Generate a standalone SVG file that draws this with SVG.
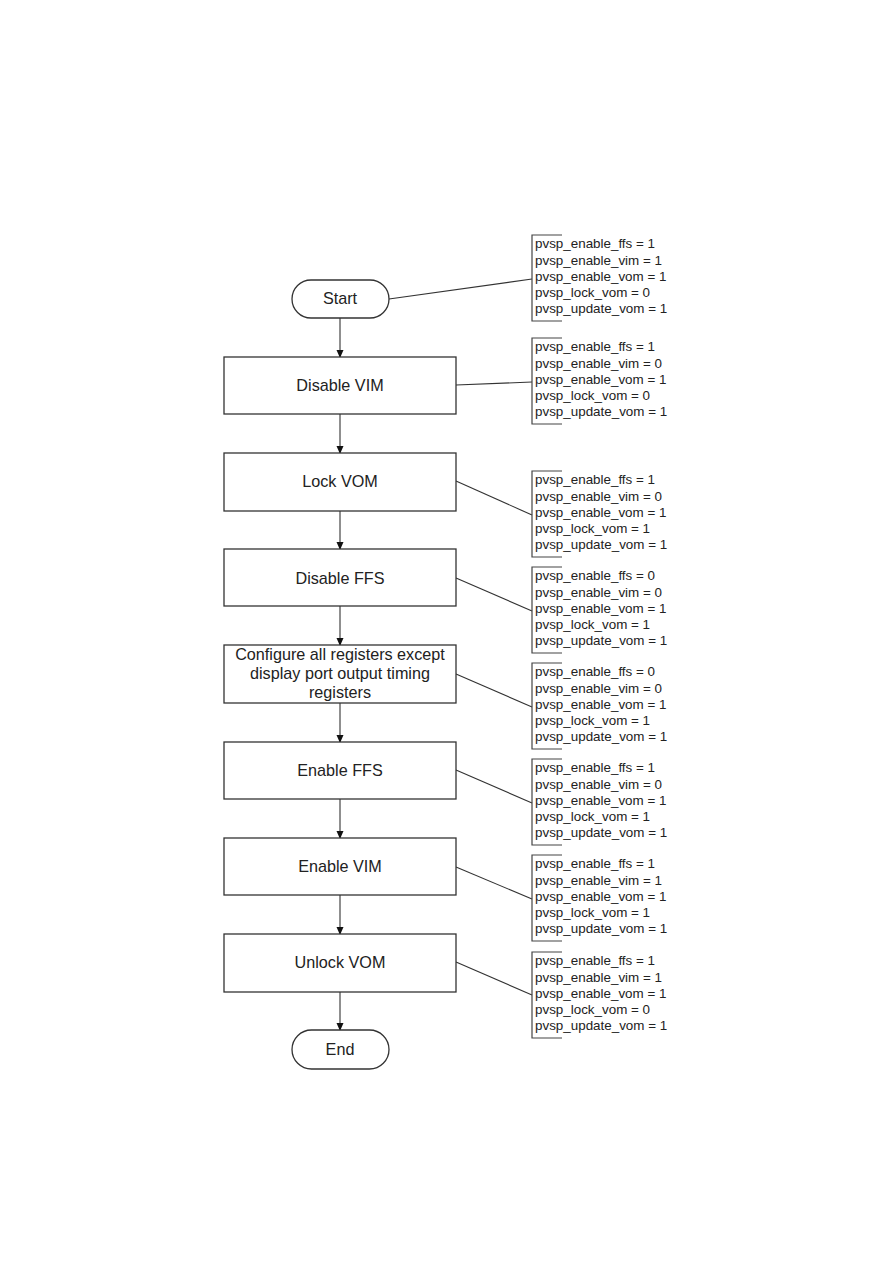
<svg xmlns="http://www.w3.org/2000/svg" width="893" height="1263" viewBox="0 0 893 1263">
<defs>
<style>
.box{fill:#fff;stroke:#333;stroke-width:1.3}
.t{font-family:"Liberation Sans",Arial,sans-serif;font-size:16.2px;fill:#222;text-anchor:middle}
.a{font-family:"Liberation Sans",Arial,sans-serif;font-size:13.4px;fill:#222}
.br{fill:none;stroke:#444;stroke-width:1.2}
.c{fill:none;stroke:#333;stroke-width:1.1}
</style>
<marker id="ah" markerWidth="8" markerHeight="9" refX="7" refY="4.5" orient="auto" markerUnits="userSpaceOnUse">
<path d="M0,1 L8,4.5 L0,8 Z" fill="#111"/>
</marker>
</defs>
<rect width="893" height="1263" fill="#fff"/>

<g id="connectors">
<line class="c" x1="340" y1="318" x2="340" y2="357" marker-end="url(#ah)"/>
<line class="c" x1="340" y1="414" x2="340" y2="453" marker-end="url(#ah)"/>
<line class="c" x1="340" y1="511" x2="340" y2="549" marker-end="url(#ah)"/>
<line class="c" x1="340" y1="606" x2="340" y2="645" marker-end="url(#ah)"/>
<line class="c" x1="340" y1="703" x2="340" y2="742" marker-end="url(#ah)"/>
<line class="c" x1="340" y1="799" x2="340" y2="838" marker-end="url(#ah)"/>
<line class="c" x1="340" y1="895" x2="340" y2="934" marker-end="url(#ah)"/>
<line class="c" x1="340" y1="992" x2="340" y2="1030" marker-end="url(#ah)"/>
<line class="c" x1="389" y1="299" x2="532" y2="279"/>
<line class="c" x1="456" y1="385" x2="532" y2="382"/>
<line class="c" x1="456" y1="481" x2="532" y2="515"/>
<line class="c" x1="456" y1="578" x2="532" y2="611"/>
<line class="c" x1="456" y1="674" x2="532" y2="707"/>
<line class="c" x1="456" y1="770" x2="532" y2="803"/>
<line class="c" x1="456" y1="867" x2="532" y2="899"/>
<line class="c" x1="456" y1="962" x2="532" y2="995"/>
</g>

<g id="start"><rect class="box" x="292" y="280" width="97" height="38" rx="19"/><text class="t" x="340" y="304">Start</text></g>
<g id="disable-vim"><rect class="box" x="224" y="357" width="232" height="57"/><text class="t" x="340" y="391">Disable VIM</text></g>
<g id="lock-vom"><rect class="box" x="224" y="453" width="232" height="58"/><text class="t" x="340" y="487">Lock VOM</text></g>
<g id="disable-ffs"><rect class="box" x="224" y="549" width="232" height="57"/><text class="t" x="340" y="584">Disable FFS</text></g>
<g id="configure"><rect class="box" x="224" y="645" width="232" height="58"/><text class="t" x="340" y="660">Configure all registers except</text><text class="t" x="340" y="679">display port output timing</text><text class="t" x="340" y="698">registers</text></g>
<g id="enable-ffs"><rect class="box" x="224" y="742" width="232" height="57"/><text class="t" x="340" y="776">Enable FFS</text></g>
<g id="enable-vim"><rect class="box" x="224" y="838" width="232" height="57"/><text class="t" x="340" y="872">Enable VIM</text></g>
<g id="unlock-vom"><rect class="box" x="224" y="934" width="232" height="58"/><text class="t" x="340" y="968">Unlock VOM</text></g>
<g id="end"><rect class="box" x="292" y="1030" width="97" height="39" rx="19.5"/><text class="t" x="340" y="1055">End</text></g>

<g id="note1"><path class="br" d="M562,235 H532 V321 H562"/>
<text class="a" x="535" y="248.3">pvsp_enable_ffs = 1</text><text class="a" x="535" y="264.5">pvsp_enable_vim = 1</text><text class="a" x="535" y="280.6">pvsp_enable_vom = 1</text><text class="a" x="535" y="296.7">pvsp_lock_vom = 0</text><text class="a" x="535" y="312.8">pvsp_update_vom = 1</text></g>
<g id="note2"><path class="br" d="M562,338 H532 V424 H562"/>
<text class="a" x="535" y="351.3">pvsp_enable_ffs = 1</text><text class="a" x="535" y="367.5">pvsp_enable_vim = 0</text><text class="a" x="535" y="383.6">pvsp_enable_vom = 1</text><text class="a" x="535" y="399.7">pvsp_lock_vom = 0</text><text class="a" x="535" y="415.8">pvsp_update_vom = 1</text></g>
<g id="note3"><path class="br" d="M562,471 H532 V557 H562"/>
<text class="a" x="535" y="484.3">pvsp_enable_ffs = 1</text><text class="a" x="535" y="500.5">pvsp_enable_vim = 0</text><text class="a" x="535" y="516.6">pvsp_enable_vom = 1</text><text class="a" x="535" y="532.7">pvsp_lock_vom = 1</text><text class="a" x="535" y="548.8">pvsp_update_vom = 1</text></g>
<g id="note4"><path class="br" d="M562,567 H532 V653 H562"/>
<text class="a" x="535" y="580.3">pvsp_enable_ffs = 0</text><text class="a" x="535" y="596.5">pvsp_enable_vim = 0</text><text class="a" x="535" y="612.6">pvsp_enable_vom = 1</text><text class="a" x="535" y="628.7">pvsp_lock_vom = 1</text><text class="a" x="535" y="644.8">pvsp_update_vom = 1</text></g>
<g id="note5"><path class="br" d="M562,663 H532 V749 H562"/>
<text class="a" x="535" y="676.3">pvsp_enable_ffs = 0</text><text class="a" x="535" y="692.5">pvsp_enable_vim = 0</text><text class="a" x="535" y="708.6">pvsp_enable_vom = 1</text><text class="a" x="535" y="724.7">pvsp_lock_vom = 1</text><text class="a" x="535" y="740.8">pvsp_update_vom = 1</text></g>
<g id="note6"><path class="br" d="M562,759 H532 V845 H562"/>
<text class="a" x="535" y="772.3">pvsp_enable_ffs = 1</text><text class="a" x="535" y="788.5">pvsp_enable_vim = 0</text><text class="a" x="535" y="804.6">pvsp_enable_vom = 1</text><text class="a" x="535" y="820.7">pvsp_lock_vom = 1</text><text class="a" x="535" y="836.8">pvsp_update_vom = 1</text></g>
<g id="note7"><path class="br" d="M562,855 H532 V941 H562"/>
<text class="a" x="535" y="868.3">pvsp_enable_ffs = 1</text><text class="a" x="535" y="884.5">pvsp_enable_vim = 1</text><text class="a" x="535" y="900.6">pvsp_enable_vom = 1</text><text class="a" x="535" y="916.7">pvsp_lock_vom = 1</text><text class="a" x="535" y="932.8">pvsp_update_vom = 1</text></g>
<g id="note8"><path class="br" d="M562,952 H532 V1038 H562"/>
<text class="a" x="535" y="965.3">pvsp_enable_ffs = 1</text><text class="a" x="535" y="981.5">pvsp_enable_vim = 1</text><text class="a" x="535" y="997.6">pvsp_enable_vom = 1</text><text class="a" x="535" y="1013.7">pvsp_lock_vom = 0</text><text class="a" x="535" y="1029.8">pvsp_update_vom = 1</text></g>
</svg>
